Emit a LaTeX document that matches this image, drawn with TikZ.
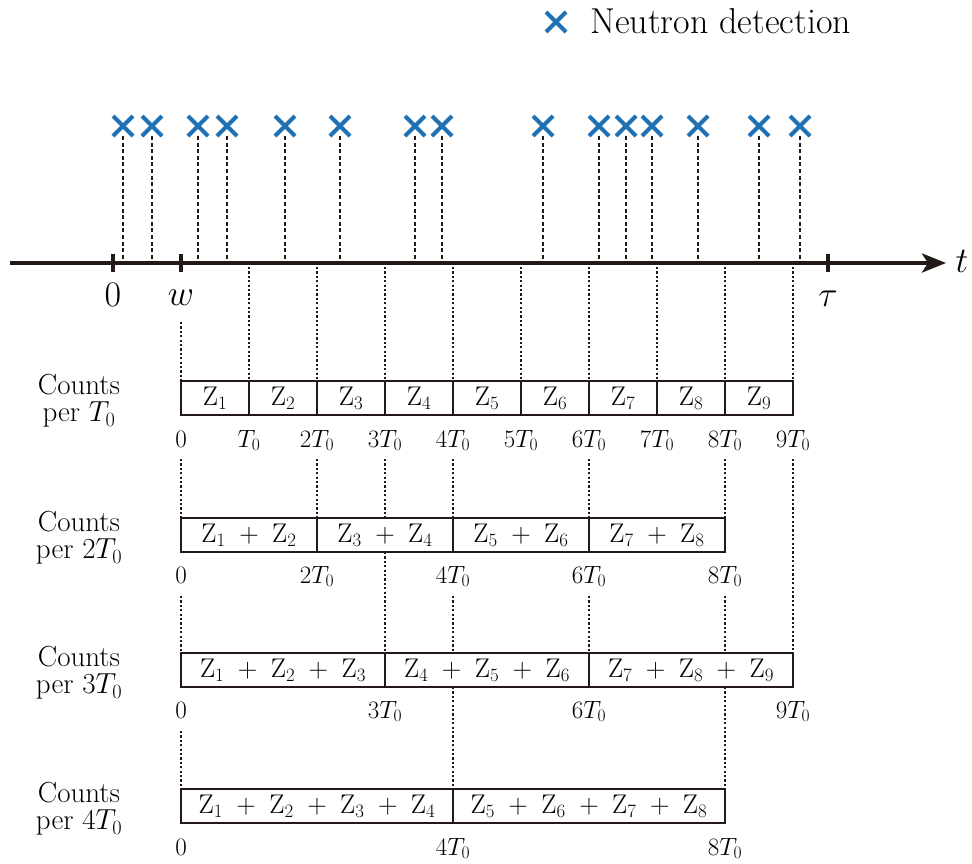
\RequirePackage{fix-cm}
\documentclass[tikz,border=0pt]{standalone}
\usetikzlibrary{arrows.meta,shapes.misc}
\definecolor{nblue}{RGB}{31,113,180}
\definecolor{ink}{RGB}{35,25,22}
\begin{document}
\begin{tikzpicture}[x=1pt,y=-1pt,
  axisline/.style={line width=4pt, draw=ink},
  tickmark/.style={line width=3.5pt, draw=ink},
  det/.style={cross out, draw=nblue, line width=4pt, minimum size=20pt, inner sep=0pt, outer sep=0pt},
  dashln/.style={line width=1.5pt, draw=ink, dash pattern=on 4pt off 2.6pt},
  dotln/.style={line width=1.6pt, draw=ink, dash pattern=on 2.2pt off 2.2pt},
  cell/.style={draw=ink, line width=2pt, minimum height=34pt, inner sep=0pt, outer sep=0pt, font=\fontsize{27}{30}\selectfont},
  tlab/.style={anchor=base, font=\fontsize{25}{28}\selectfont, inner sep=0pt},
  rowlab/.style={align=center, font=\fontsize{29}{27}\selectfont, inner sep=0pt},
  axlab/.style={anchor=base, font=\fontsize{36}{40}\selectfont, inner sep=0pt},
]
\useasboundingbox (0,0) rectangle (972,863);

% legend
\node[det] (leg) at (556,22) {};
\node[anchor=base west, font=\fontsize{36}{40}\selectfont, inner sep=0pt] (legt) at (590,33) {Neutron detection};

% axis
\coordinate (axL) at (10,263);
\coordinate (axR) at (946,263);
\draw[axisline, -{Stealth[length=24pt,width=19pt,inset=6pt]}] (axL) -- (axR);
\node[axlab] (tl) at (962,272) {$t$};

% ticks
\coordinate (t0a) at (113,254); \coordinate (t0b) at (113,272);
\coordinate (twa) at (181,254); \coordinate (twb) at (181,272);
\coordinate (tta) at (828,254); \coordinate (ttb) at (828,272);
\draw[tickmark] (t0a) -- (t0b);
\draw[tickmark] (twa) -- (twb);
\draw[tickmark] (tta) -- (ttb);
\node[axlab] (l0) at (113,306) {$0$};
\node[axlab] (lw) at (181,305) {$w$};
\node[axlab] (ltau) at (828,306) {$\tau$};

% detections
\foreach \x [count=\i] in {123,152,198,227,285,340,415,442,543,599,626,652,698,759,800} {
  \node[det] (c\i) at (\x,126) {};
  \coordinate (a\i) at (\x,261);
  \draw[dashln] (c\i.south) -- (a\i);
}

% bin boundaries on axis
\foreach \k in {1,...,9} { \coordinate (b\k) at ({181+68*\k},267); }
\coordinate (wtop) at (181,322);

% row 1
\foreach \k in {1,...,9} {
  \node[cell, minimum width=68pt] (r1c\k) at ({181+68*\k-34},398) {$\mathrm{Z}_{\k}$};
}
% row 2
\node[cell, minimum width=136pt] (r2c1) at (249,535) {$\mathrm{Z}_1 \;+\; \mathrm{Z}_2$};
\node[cell, minimum width=136pt] (r2c2) at (385,535) {$\mathrm{Z}_3 \;+\; \mathrm{Z}_4$};
\node[cell, minimum width=136pt] (r2c3) at (521,535) {$\mathrm{Z}_5 \;+\; \mathrm{Z}_6$};
\node[cell, minimum width=136pt] (r2c4) at (657,535) {$\mathrm{Z}_7 \;+\; \mathrm{Z}_8$};
% row 3
\node[cell, minimum width=204pt] (r3c1) at (283,670) {$\mathrm{Z}_1 \;+\; \mathrm{Z}_2 \;+\; \mathrm{Z}_3$};
\node[cell, minimum width=204pt] (r3c2) at (487,670) {$\mathrm{Z}_4 \;+\; \mathrm{Z}_5 \;+\; \mathrm{Z}_6$};
\node[cell, minimum width=204pt] (r3c3) at (691,670) {$\mathrm{Z}_7 \;+\; \mathrm{Z}_8 \;+\; \mathrm{Z}_9$};
% row 4
\node[cell, minimum width=272pt] (r4c1) at (317,806) {$\mathrm{Z}_1 \;+\; \mathrm{Z}_2 \;+\; \mathrm{Z}_3 \;+\; \mathrm{Z}_4$};
\node[cell, minimum width=272pt] (r4c2) at (589,806) {$\mathrm{Z}_5 \;+\; \mathrm{Z}_6 \;+\; \mathrm{Z}_7 \;+\; \mathrm{Z}_8$};

% row labels
\node[rowlab] (rl1) at (79,401) {Counts\\per $T_0$};
\node[rowlab] (rl2) at (79,538) {Counts\\per $2T_0$};
\node[rowlab] (rl3) at (79,673) {Counts\\per $3T_0$};
\node[rowlab] (rl4) at (79,809) {Counts\\per $4T_0$};

% tick labels row 1
\node[tlab] (p10) at (181,447) {$0$};
\node[tlab] (p11) at (249,447) {$T_0$};
\foreach \k in {2,...,9} { \node[tlab] (p1\k) at ({181+68*\k},447) {$\k T_0$}; }
% row 2
\node[tlab] (p20) at (181,583) {$0$};
\node[tlab] (p22) at (317,583) {$2T_0$};
\node[tlab] (p24) at (453,583) {$4T_0$};
\node[tlab] (p26) at (589,583) {$6T_0$};
\node[tlab] (p28) at (725,583) {$8T_0$};
% row 3
\node[tlab] (p30) at (181,718) {$0$};
\node[tlab] (p33) at (385,718) {$3T_0$};
\node[tlab] (p36) at (589,718) {$6T_0$};
\node[tlab] (p39) at (793,718) {$9T_0$};
% row 4
\node[tlab] (p40) at (181,855) {$0$};
\node[tlab] (p44) at (453,855) {$4T_0$};
\node[tlab] (p48) at (725,855) {$8T_0$};

% dotted: axis to row 1
\draw[dotln] (wtop) -- (r1c1.north west);
\foreach \k in {1,...,9} { \draw[dotln] (b\k) -- (r1c\k.north east); }

% dotted: row 1 to row 2 / row 3
\foreach \k in {0,2,3,4,6,8,9} { \coordinate (d1\k) at ({181+68*\k},459); }
\draw[dotln] (d10) -- (r2c1.north west);
\draw[dotln] (d12) -- (r2c2.north west);
\draw[dotln] (d13) -- (r2c2.north);
\draw[dotln] (d14) -- (r2c3.north west);
\draw[dotln] (d16) -- (r2c4.north west);
\draw[dotln] (d18) -- (r2c4.north east);
\draw[dotln] (d19) -- (r3c3.north east);
\draw[dotln] (r2c2.south) -- (r3c2.north west);

% dotted: row 2 to row 3
\coordinate (d20) at (181,596);
\coordinate (d24) at (453,596);
\coordinate (d26) at (589,596);
\coordinate (d28) at (725,596);
\coordinate (e24) at (453,653);
\coordinate (e28) at (725,653);
\draw[dotln] (d20) -- (r3c1.north west);
\draw[dotln] (d24) -- (e24);
\draw[dotln] (d26) -- (r3c2.north east);
\draw[dotln] (d28) -- (e28);

% dotted: row 3 to row 4
\coordinate (d30) at (181,731);
\coordinate (f34) at (453,687);
\coordinate (f38) at (725,687);
\draw[dotln] (d30) -- (r4c1.north west);
\draw[dotln] (f34) -- (r4c1.north east);
\draw[dotln] (f38) -- (r4c2.north east);
\end{tikzpicture}
\end{document}
